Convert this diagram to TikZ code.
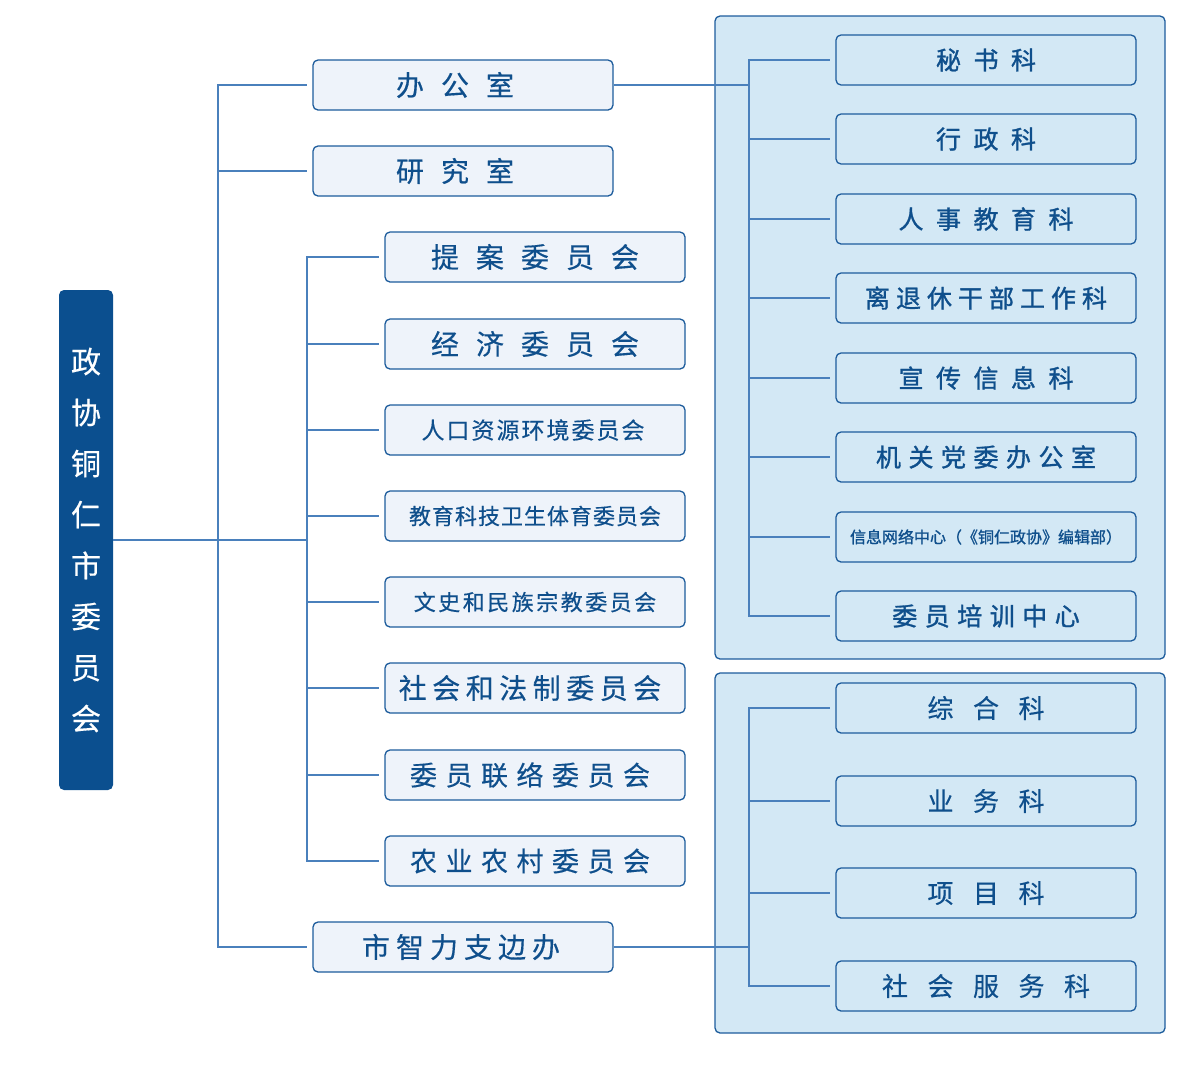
\documentclass[tikz,border=0pt]{standalone}
\usepackage{fontspec}
\setmainfont{Noto Sans CJK SC}
\newfontfamily\cjkmed{Noto Sans CJK SC}[FakeBold=1.2]
\newfontfamily\cjklight{Noto Sans CJK SC}[FakeBold=0.4]
\usepackage{tikz}
\usetikzlibrary{positioning,calc}

\definecolor{zxblue}{HTML}{0B4F8F}
\definecolor{linkblue}{HTML}{4A80BC}
\definecolor{edgeblue}{HTML}{1D5C9C}
\definecolor{boxfill}{HTML}{EEF3FA}
\definecolor{panelfill}{HTML}{D3E8F5}
\definecolor{txtblue}{HTML}{0F4F8C}

% spread the characters of #2 apart by #1
\newcommand\sptext[2]{\def\spgap{#1}\sploop#2\relax}
\def\sploop#1{\ifx#1\relax\else#1\expandafter\spnext\fi}
\def\spnext#1{\ifx#1\relax\else\hspace{\spgap}#1\expandafter\spnext\fi}
\newcommand\fs[1]{\fontsize{#1pt}{#1pt}\selectfont}

\begin{document}
\begin{tikzpicture}[x=1pt, y=-1pt,
	link/.style={draw=linkblue,line width=2pt},
	branch/.style={link,shorten >=5pt},
	office/.style={draw=edgeblue,line width=1.3pt,fill=boxfill,rounded corners=5pt,
		minimum width=300pt,minimum height=50pt,inner sep=0pt,text=txtblue},
	section/.style={office,fill=panelfill},
	panel/.style={draw=edgeblue,line width=1.3pt,fill=panelfill,rounded corners=5pt}]
	\useasboundingbox (0,0) rectangle (1200,1080);
	% panels on the right
	\draw[panel] (715,16) rectangle (1165,659);
	\draw[panel] (715,673) rectangle (1165,1033);
	% root
	\node[fill=zxblue,rounded corners=5pt,minimum width=54pt,minimum height=500pt,
		text=white,align=center,inner sep=0pt,font=\cjklight\fontsize{30pt}{51pt}\selectfont]
		at (86,540) (zx) {政\\协\\铜\\仁\\市\\委\\员\\会};
	% first level
	\node[office,font=\cjklight\fs{28}] at (463,85) (bgs) {\sptext{17pt}{办公室}\kern16pt};
	\node[office,font=\cjklight\fs{28}] at (463,171) (yjs) {\sptext{17pt}{研究室}\kern16pt};
	\node[office,font=\cjklight\fs{28}] at (463,947) (zlb) {\sptext{6pt}{市智力支边办}\kern4pt};
	% committees
	\node[office,font=\cjklight\fs{28}] at (535,257) (taw) {\sptext{17pt}{提案委员会}};
	\node[office,font=\cjklight\fs{28}] at (535,344) (jjw) {\sptext{17pt}{经济委员会}};
	\node[office,font=\cjklight\fs{23}] at (535,430) (rkw) {\sptext{2pt}{人口资源环境委员会}\kern4pt};
	\node[office,font=\cjklight\fs{22}] at (535,516) (jkw) {\sptext{1pt}{教育科技卫生体育委员会}};
	\node[office,font=\cjklight\fs{22}] at (535,602) (wsw) {\sptext{2.5pt}{文史和民族宗教委员会}};
	\node[office,font=\cjklight\fs{28}] at (535,688) (shw) {\sptext{5.5pt}{社会和法制委员会}\kern10pt};
	\node[office,font=\cjklight\fs{27}] at (535,775) (wyw) {\sptext{8.5pt}{委员联络委员会}\kern10pt};
	\node[office,font=\cjklight\fs{27}] at (535,861) (nyw) {\sptext{8.5pt}{农业农村委员会}\kern10pt};
	% sections of the office
	\node[section,font=\cjkmed\fs{25}] at (986,60) (msk) {\sptext{12.5pt}{秘书科}};
	\node[section,font=\cjkmed\fs{25}] at (986,139) (xzk) {\sptext{12.5pt}{行政科}};
	\node[section,font=\cjkmed\fs{25}] at (986,219) (rsk) {\sptext{12.5pt}{人事教育科}};
	\node[section,font=\cjkmed\fs{25}] at (986,298) (ltk) {\sptext{6pt}{离退休干部工作科}};
	\node[section,font=\cjkmed\fs{25}] at (986,378) (xck) {\sptext{12.5pt}{宣传信息科}};
	\node[section,font=\cjkmed\fs{25}] at (986,457) (jgd) {\sptext{7.5pt}{机关党委办公室}};
	\node[section,font=\cjkmed\fs{16}] at (986,537) (xxw) {信息网络中心（《铜仁政协》编辑部）};
	\node[section,font=\cjkmed\fs{25}] at (986,616) (wypx) {\sptext{7.5pt}{委员培训中心}};
	% sections of the support office
	\node[section,font=\cjklight\fs{26}] at (986,708) (zhk) {\sptext{19.5pt}{综合科}};
	\node[section,font=\cjklight\fs{26}] at (986,801) (ywk) {\sptext{19.5pt}{业务科}};
	\node[section,font=\cjklight\fs{26}] at (986,893) (xmk) {\sptext{19.5pt}{项目科}};
	\node[section,font=\cjklight\fs{26}] at (986,986) (shfw) {\sptext{19.5pt}{社会服务科}};
	% trunk points
	\coordinate (t1) at (218,540);
	\coordinate (t2) at (307,540);
	\coordinate (t3) at (749,85);
	\coordinate (t4) at (749,947);
	\draw[link] (zx.east) -- (t2);
	\draw[branch] (t1) |- (bgs.west);
	\draw[branch] (t1) |- (yjs.west);
	\draw[branch] (t1) |- (zlb.west);
	\draw[branch] (t2) |- (taw.west);
	\draw[branch] (t2) |- (jjw.west);
	\draw[branch] (t2) |- (rkw.west);
	\draw[branch] (t2) |- (jkw.west);
	\draw[branch] (t2) |- (wsw.west);
	\draw[branch] (t2) |- (shw.west);
	\draw[branch] (t2) |- (wyw.west);
	\draw[branch] (t2) |- (nyw.west);
	\draw[link] (bgs.east) -- (t3);
	\draw[branch] (t3) |- (msk.west);
	\draw[branch] (t3) |- (xzk.west);
	\draw[branch] (t3) |- (rsk.west);
	\draw[branch] (t3) |- (ltk.west);
	\draw[branch] (t3) |- (xck.west);
	\draw[branch] (t3) |- (jgd.west);
	\draw[branch] (t3) |- (xxw.west);
	\draw[branch] (t3) |- (wypx.west);
	\draw[link] (zlb.east) -- (t4);
	\draw[branch] (t4) |- (zhk.west);
	\draw[branch] (t4) |- (ywk.west);
	\draw[branch] (t4) |- (xmk.west);
	\draw[branch] (t4) |- (shfw.west);
\end{tikzpicture}
\end{document}
